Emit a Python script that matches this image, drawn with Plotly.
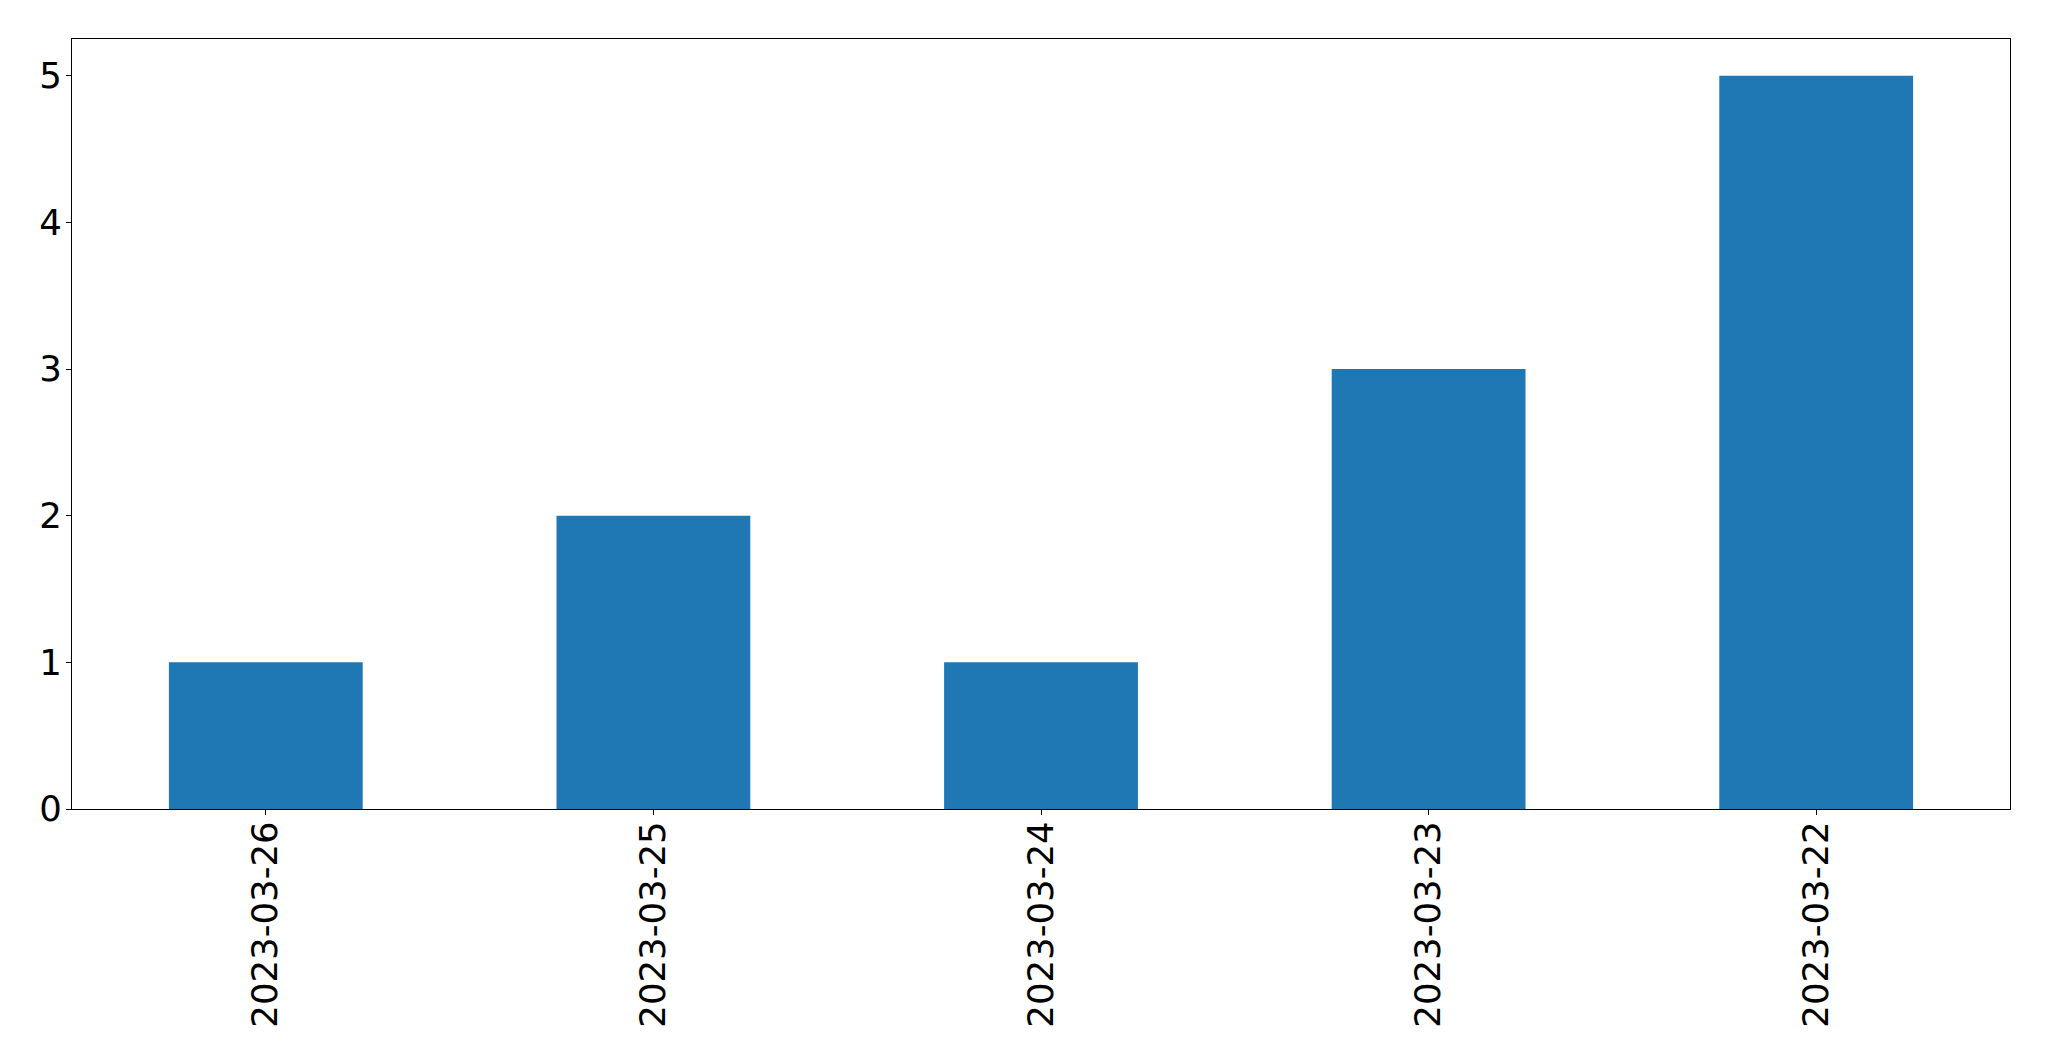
import plotly.graph_objects as go

dates = ["2023-03-26", "2023-03-25", "2023-03-24", "2023-03-23", "2023-03-22"]
counts = [1, 2, 1, 3, 5]
y_ticks = [0, 1, 2, 3, 4, 5]

fig = go.Figure(go.Bar(x=dates, y=counts, width=0.5, marker=dict(color="#1f77b4", line=dict(width=0))))

fig.update_layout(
    width=2049, height=1061,
    margin=dict(l=64, r=47, t=31, b=260),
    plot_bgcolor="white", paper_bgcolor="white",
    font=dict(family="DejaVu Sans", size=35.5, color="black"),
    showlegend=False,
)
fig.update_xaxes(
    type="category", range=[-0.5, 4.5], tickangle=-90,
    showline=True, mirror=True, linecolor="black", linewidth=1.3,
    ticks="outside", ticklen=5, tickwidth=1.3, tickcolor="black",
    showgrid=False, zeroline=False, ticklabelstandoff=-8,
)
fig.update_yaxes(
    range=[0, 5.25], tickvals=y_ticks,
    showline=True, mirror=True, linecolor="black", linewidth=1.3,
    ticks="outside", ticklen=5, tickwidth=1.3, tickcolor="black",
    showgrid=False, zeroline=False, ticklabelstandoff=-3,
)
fig.write_html("out.html")
